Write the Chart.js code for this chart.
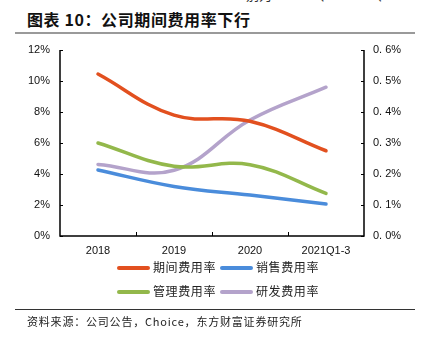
<!DOCTYPE html>
<html><head><meta charset="utf-8">
<script src="https://cdn.jsdelivr.net/npm/chart.js@4/dist/chart.umd.min.js"></script>
<style>
html,body{margin:0;padding:0;background:#fff;}
#wrap{position:relative;width:422px;height:338px;overflow:hidden;font-family:"Liberation Sans",Arial,sans-serif;}
#c{position:absolute;left:0;top:0;}
.cut{position:absolute;left:246px;top:-14px;font-size:13px;color:#333;font-family:"Noto Sans CJK SC";white-space:nowrap;line-height:18px;}
.title{position:absolute;left:27px;top:9px;font-size:16px;font-weight:bold;color:#111;font-family:"Noto Sans CJK SC";letter-spacing:0.6px;white-space:nowrap;line-height:20px;}
.tl{position:absolute;left:15px;top:32px;width:400px;height:2px;background:#9a9a9a;}
.sl{position:absolute;left:15px;top:309px;width:400px;height:1px;background:#333;}
.src{position:absolute;left:27px;top:313px;font-size:11px;color:#222;font-family:"Noto Sans CJK SC";letter-spacing:0.8px;white-space:nowrap;line-height:16px;}
.leg{position:absolute;font-size:12px;color:#222;font-family:"Noto Sans CJK SC";letter-spacing:0.6px;white-space:nowrap;line-height:16px;}
.leg i{position:absolute;top:7px;height:4px;width:33px;border-radius:2px;}
</style></head>
<body><div id="wrap">
<div class="cut">别为 37.32%、44.23%、46</div>
<div class="title">图表 10：公司期间费用率下行</div>
<div class="tl"></div>
<canvas id="c" width="422" height="338"></canvas>
<div id="legend"></div>
<div class="sl"></div>
<div class="src">资料来源：公司公告，Choice，东方财富证券研究所</div>
</div>
<script>
const categories = ["2018","2019","2020","2021Q1-3"];
const seriesNames = ["期间费用率","销售费用率","管理费用率","研发费用率"];
const periodRate = [10.45, 7.8, 7.4, 5.5];
const salesRate = [4.26, 3.2, 2.64, 2.06];
const adminRate = [6.0, 4.5, 4.6, 2.75];
const rdRate = [0.231, 0.212, 0.374, 0.48];
const leftTicks = [0,2,4,6,8,10,12];
const rightTicks = [0,0.1,0.2,0.3,0.4,0.5,0.6];
const colors = ["#E2501F","#4A8CDB","#93B84B","#B4A3CB"];

const mk = (i, data, axis) => ({label: seriesNames[i], data, yAxisID: axis, borderColor: colors[i], backgroundColor: colors[i],
  borderWidth: 3.5, tension: 0.4, pointRadius: 0, fill: false, borderCapStyle:'round'});

const innerTicks = {
  id:'innerTicks',
  afterDraw(chart){
    const ctx = chart.ctx, x = chart.scales.x, yl = chart.scales.y, yr = chart.scales.y1;
    const a = chart.chartArea;
    ctx.save(); ctx.strokeStyle='#000'; ctx.lineWidth=1;
    ctx.beginPath();
    leftTicks.forEach(v=>{const p=Math.round(yl.getPixelForValue(v))+0.5; ctx.moveTo(a.left,p); ctx.lineTo(a.left+3,p);});
    rightTicks.forEach(v=>{const p=Math.round(yr.getPixelForValue(v))+0.5; ctx.moveTo(a.right,p); ctx.lineTo(a.right-3,p);});
    for(let i=1;i<categories.length;i++){
      const p=Math.round((x.getPixelForValue(i-1)+x.getPixelForValue(i))/2)+0.5;
      ctx.moveTo(p,a.bottom); ctx.lineTo(p,a.bottom-4);
    }
    ctx.stroke();
    ctx.lineWidth=1.5;
    ctx.beginPath();
    ctx.moveTo(a.left,a.top); ctx.lineTo(a.left,a.bottom); ctx.lineTo(a.right,a.bottom); ctx.lineTo(a.right,a.top);
    ctx.stroke();
    ctx.restore();
  }
};

new Chart(document.getElementById('c'), {
  type:'line',
  data:{labels:categories, datasets:[mk(0,periodRate,'y'),mk(1,salesRate,'y'),mk(2,adminRate,'y'),mk(3,rdRate,'y1')]},
  options:{
    responsive:false, animation:false, devicePixelRatio:1,
    layout:{padding:{top:50,bottom:78,left:0,right:0}},
    plugins:{legend:{display:false},tooltip:{enabled:false}},
    scales:{
      x:{offset:true, grid:{display:false, drawTicks:false}, border:{display:false},
         ticks:{padding:8, color:'#111', font:{family:'"Liberation Sans", Arial', size:11}, maxRotation:0},
         afterFit(s){s.height=24;}},
      y:{position:'left', min:0, max:12, grid:{display:false, drawTicks:false}, border:{display:false},
         afterBuildTicks(s){s.ticks=leftTicks.map(v=>({value:v}));},
         ticks:{padding:10, color:'#111', font:{family:'"Liberation Sans", Arial', size:11}, callback:v=>v+'%'},
         afterFit(s){s.width=60;}},
      y1:{position:'right', min:0, max:0.6, grid:{display:false, drawTicks:false}, border:{display:false},
         afterBuildTicks(s){s.ticks=rightTicks.map(v=>({value:v}));},
         ticks:{padding:9, color:'#111', font:{family:'"Liberation Sans", Arial', size:11}, callback:v=>v.toFixed(1).replace('.', '. ')+'%'},
         afterFit(s){s.width=58;}}
    }
  },
  plugins:[innerTicks]
});

// legend built from series
const legPos = [[117,259],[220,259],[117,283],[220,283]];
const lg = document.getElementById('legend');
seriesNames.forEach((n,i)=>{
  const d=document.createElement('div'); d.className='leg';
  d.style.left=legPos[i][0]+'px'; d.style.top=legPos[i][1]+'px'; d.style.paddingLeft='36px';
  d.innerHTML='<i style="left:0;background:'+colors[i]+'"></i>'+n;
  lg.appendChild(d);
});
</script>
</body></html>
